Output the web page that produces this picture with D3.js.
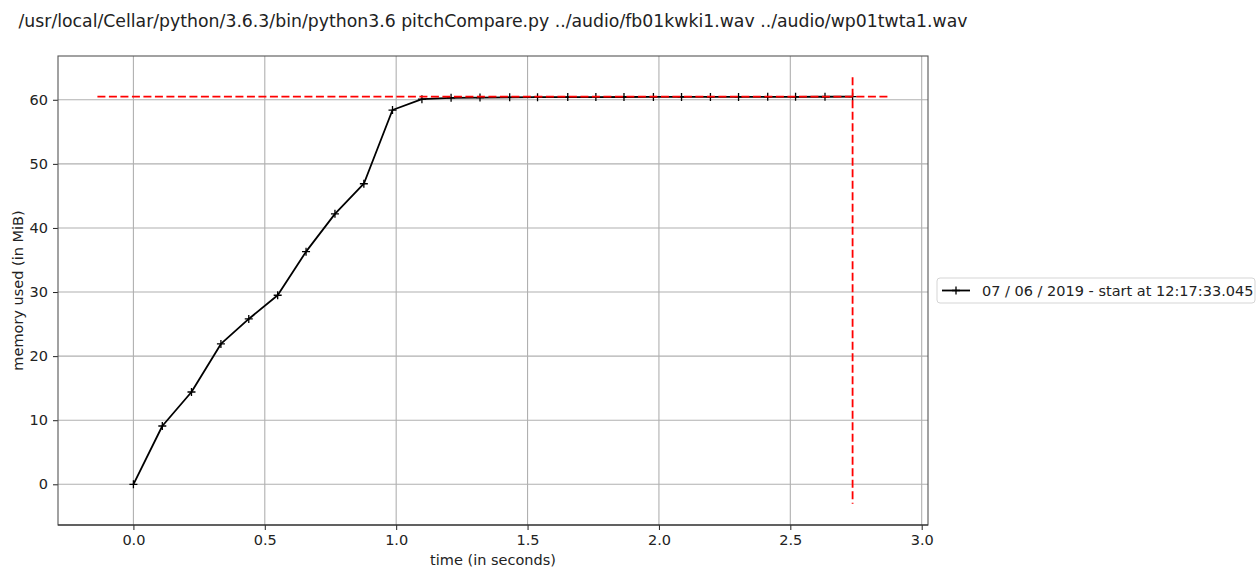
<!DOCTYPE html>
<html>
<head>
<meta charset="utf-8">
<script src="https://cdn.jsdelivr.net/npm/d3@7"></script>
<style>
  html, body { margin: 0; padding: 0; background: #fff; }
  svg { display: block; font-family: "DejaVu Sans", sans-serif; }
</style>
</head>
<body>
<svg id="chart"></svg>
<script>
// memory samples (seconds, MiB)
const times = [0, 0.110, 0.221, 0.333, 0.439, 0.549, 0.657, 0.767, 0.877, 0.986,
  1.098, 1.209, 1.319, 1.432, 1.538, 1.653, 1.760, 1.867, 1.979, 2.086,
  2.196, 2.303, 2.414, 2.520, 2.632, 2.737];
const memory = [0, 9.1, 14.4, 21.9, 25.8, 29.5, 36.3, 42.2, 46.9, 58.4,
  60.1, 60.3, 60.35, 60.38, 60.4, 60.42, 60.42, 60.43, 60.44, 60.44,
  60.45, 60.45, 60.46, 60.46, 60.47, 60.48];

// max memory markers (dashed red)
const maxMem = 60.48;
const maxLineX = [-0.137, 2.874];
const maxTime = 2.737;
const maxLineY = [-3.02, 63.5];

const xDomain = [-0.287, 3.024];
const yDomain = [-6.35, 66.83];
const xTicks = [0, 0.5, 1.0, 1.5, 2.0, 2.5, 3.0];
const yTicks = [0, 10, 20, 30, 40, 50, 60];

const title = "/usr/local/Cellar/python/3.6.3/bin/python3.6 pitchCompare.py ../audio/fb01kwki1.wav ../audio/wp01twta1.wav";
const legendLabel = "07 / 06 / 2019 - start at 12:17:33.045";

const W = 1257, H = 567;
const margin = { left: 58, top: 56, right: 329, bottom: 42 };
const innerW = W - margin.left - margin.right;
const innerH = H - margin.top - margin.bottom;
const fs = "14.5px";

const svg = d3.select("#chart").attr("width", W).attr("height", H);

const x = d3.scaleLinear().domain(xDomain).range([0, innerW]);
const y = d3.scaleLinear().domain(yDomain).range([innerH, 0]);

const g = svg.append("g").attr("transform", `translate(${margin.left},${margin.top})`);

// grid
g.append("g").selectAll("line").data(xTicks).join("line")
  .attr("x1", d => x(d)).attr("x2", d => x(d))
  .attr("y1", 0).attr("y2", innerH)
  .attr("stroke", "#b0b0b0").attr("stroke-width", 1.1);
g.append("g").selectAll("line").data(yTicks).join("line")
  .attr("y1", d => y(d)).attr("y2", d => y(d))
  .attr("x1", 0).attr("x2", innerW)
  .attr("stroke", "#b0b0b0").attr("stroke-width", 1.1);

// axes
const xAxis = g.append("g").attr("transform", `translate(0,${innerH})`)
  .call(d3.axisBottom(x).tickValues(xTicks).tickFormat(d3.format(".1f")).tickSize(5).tickPadding(5));
const yAxis = g.append("g")
  .call(d3.axisLeft(y).tickValues(yTicks).tickFormat(d3.format("d")).tickSize(5).tickPadding(5));
[xAxis, yAxis].forEach(a => {
  a.select(".domain").remove();
  a.selectAll("text").style("font-size", fs).style("font-family", "DejaVu Sans").attr("fill", "#222");
  a.selectAll("line").attr("stroke", "#222");
});

// data line
const line = d3.line().x((d, i) => x(times[i])).y(d => y(d));
g.append("path").datum(memory)
  .attr("d", line)
  .attr("fill", "none").attr("stroke", "#000").attr("stroke-width", 1.8)
  .attr("stroke-linejoin", "round");

// "+" markers
const mk = 4;
g.append("g").selectAll("path").data(memory).join("path")
  .attr("d", (d, i) => `M${x(times[i]) - mk},${y(d)}h${2 * mk}M${x(times[i])},${y(d) - mk}v${2 * mk}`)
  .attr("stroke", "#000").attr("stroke-width", 1.3);

// max memory dashed lines
g.append("line")
  .attr("x1", x(maxLineX[0])).attr("x2", x(maxLineX[1]))
  .attr("y1", y(maxMem)).attr("y2", y(maxMem))
  .attr("stroke", "#ff0000").attr("stroke-width", 1.8).attr("stroke-dasharray", "8,3.5");
g.append("line")
  .attr("x1", x(maxTime)).attr("x2", x(maxTime))
  .attr("y1", y(maxLineY[1])).attr("y2", y(maxLineY[0]))
  .attr("stroke", "#ff0000").attr("stroke-width", 1.8).attr("stroke-dasharray", "8,3.5");

// spines
g.append("rect").attr("x", 0).attr("y", 0).attr("width", innerW).attr("height", innerH)
  .attr("fill", "none").attr("stroke", "#555").attr("stroke-width", 1.1);
g.append("line").attr("x1", 0).attr("x2", innerW).attr("y1", innerH).attr("y2", innerH)
  .attr("stroke", "#222").attr("stroke-width", 1.1);

// labels
svg.append("text").attr("x", margin.left + innerW / 2).attr("y", 27)
  .attr("text-anchor", "middle").style("font-size", "17.3px").attr("fill", "#222").text(title);
svg.append("text").attr("x", margin.left + innerW / 2).attr("y", 565)
  .attr("text-anchor", "middle").style("font-size", fs).attr("fill", "#222").text("time (in seconds)");
svg.append("text")
  .attr("transform", `translate(23,${margin.top + innerH / 2}) rotate(-90)`)
  .attr("text-anchor", "middle").style("font-size", fs).attr("fill", "#222").text("memory used (in MiB)");

// legend
const lg = svg.append("g").attr("transform", "translate(937,278)");
lg.append("rect").attr("width", 318).attr("height", 25).attr("rx", 3)
  .attr("fill", "#fff").attr("stroke", "#d5d5d5");
lg.append("line").attr("x1", 5).attr("x2", 33).attr("y1", 12.5).attr("y2", 12.5)
  .attr("stroke", "#000").attr("stroke-width", 1.8);
lg.append("path").attr("d", `M${19 - mk},12.5h${2 * mk}M19,${12.5 - mk}v${2 * mk}`)
  .attr("stroke", "#000").attr("stroke-width", 1.3);
lg.append("text").attr("x", 45).attr("y", 17.5).style("font-size", fs).attr("fill", "#222").text(legendLabel);
</script>
</body>
</html>
